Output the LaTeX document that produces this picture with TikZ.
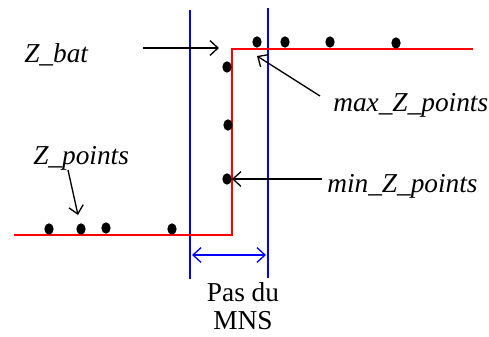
\documentclass[tikz,border=0pt]{standalone}
\usepackage{fontspec}
\setmainfont{Liberation Serif}
\usetikzlibrary{arrows.meta,shapes.geometric}
\begin{document}
\begin{tikzpicture}[x=0.75pt,y=-0.75pt,
  dot/.style={ellipse,fill=black,draw=none,inner sep=0pt,minimum width=7pt,minimum height=8.5pt},
  lbl/.style={font=\fontsize{20.5}{21}\selectfont\itshape,inner sep=0pt},
  redline/.style={red,line width=1.3pt},
  blueline/.style={blue,line width=1.3pt},
  ptr/.style={black,line width=1pt,-{Straight Barb[length=6pt,width=11pt,line width=1pt]}},
  dim/.style={blue,line width=1pt,{Straight Barb[length=6pt,width=11pt,line width=1pt]}-{Straight Barb[length=6pt,width=11pt,line width=1pt]}}]
\useasboundingbox (0,0) rectangle (489,336);
% blue grid lines
\coordinate (b1t) at (190,10); \coordinate (b1b) at (190,279);
\coordinate (b2t) at (268,8);  \coordinate (b2b) at (268,278);
\draw[blueline] (b1t) -- (b1b);
\draw[blueline] (b2t) -- (b2b);
% red profile
\coordinate (r0) at (14,235); \coordinate (r1) at (232,235);
\coordinate (r2) at (232,49); \coordinate (r3) at (473,49);
\draw[redline] (r0) -- (r1) -- (r2) -- (r3);
% dots
\node[dot] (t1) at (257,42) {};
\node[dot] (t2) at (285,42) {};
\node[dot] (t3) at (330,42) {};
\node[dot] (t4) at (396,43) {};
\node[dot] (v1) at (227,67) {};
\node[dot] (v2) at (228,125) {};
\node[dot] (v3) at (227,179) {};
\node[dot] (g1) at (49,229) {};
\node[dot] (g2) at (81,229) {};
\node[dot] (g3) at (106,228) {};
\node[dot] (g4) at (172,229) {};
% labels
\node[lbl,anchor=base west] (zbat) at (24,62) {Z\_bat};
\node[lbl,anchor=base west] (zpts) at (33,164) {Z\_points};
\node[lbl,anchor=base west] (maxz) at (333,111) {max\_Z\_points};
\node[lbl,anchor=base west] (minz) at (327,192) {min\_Z\_points};
\node[font=\fontsize{20.5}{21}\selectfont,align=center,anchor=north,inner sep=0pt] (pas) at (243,282) {Pas du\\MNS};
% arrows
\coordinate (zbatA) at (143,48); \coordinate (zbatB) at (219,48);
\draw[ptr] (zbatA) -- (zbatB);
\coordinate (maxA) at (320,96); \coordinate (maxB) at (257,56);
\draw[ptr] (maxA) -- (maxB);
\coordinate (minA) at (322,179);
\draw[ptr] (minA) -- (v3.east);
\coordinate (zpA) at (68,170); \coordinate (zpB) at (78,215);
\draw[ptr] (zpA) -- (zpB);
\coordinate (dL) at (192,255); \coordinate (dR) at (266,255);
\draw[dim] (dL) -- (dR);
\end{tikzpicture}
\end{document}
